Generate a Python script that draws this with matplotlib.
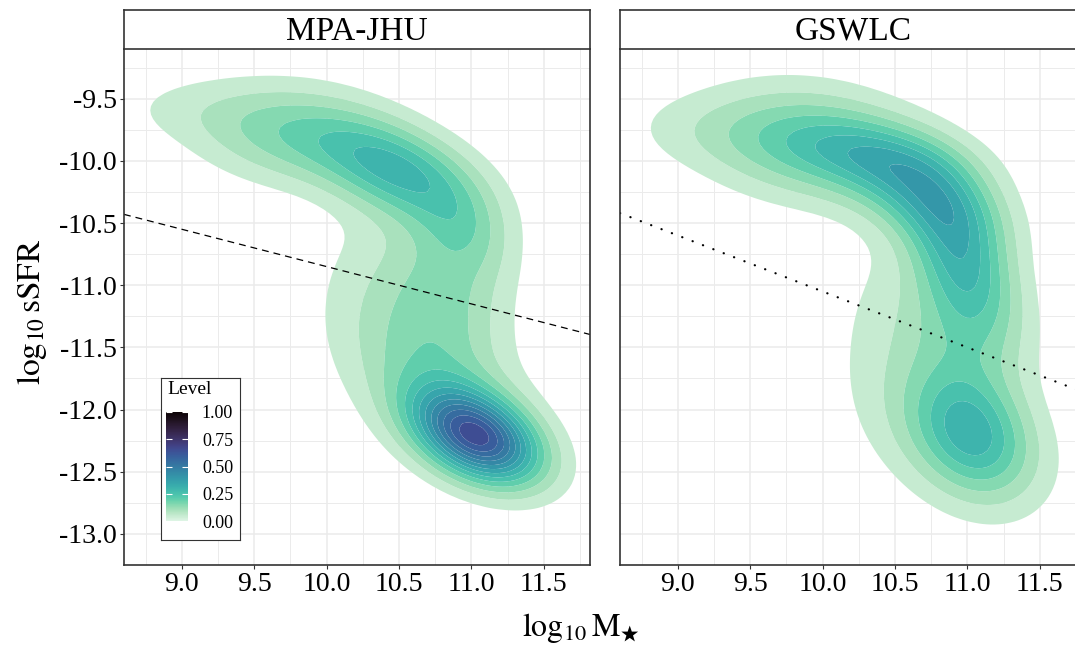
import numpy as np
import matplotlib
matplotlib.use("Agg")
import matplotlib.pyplot as plt
import seaborn as sns
from matplotlib.colors import Normalize
from matplotlib.cm import ScalarMappable

plt.rcParams['font.family'] = ['Liberation Serif', 'DejaVu Serif']
plt.rcParams['mathtext.fontset'] = 'stix'

# panel names
panels = ["MPA-JHU", "GSWLC"]

# smooth density components per panel: centre, widths, correlation, peak level
mpa_cx = [9.0, 9.75, 10.5, 10.95, 10.85, 10.35, 11.04, 10.75]
mpa_cy = [-9.58, -9.78, -10.08, -10.55, -11.0, -11.0, -12.22, -11.75]
mpa_sx = [0.40, 0.45, 0.38, 0.22, 0.30, 0.35, 0.30, 0.40]
mpa_sy = [0.20, 0.28, 0.28, 0.25, 0.45, 0.50, 0.26, 0.40]
mpa_rho = [-0.1, -0.15, -0.45, -0.3, 0.0, 0.0, -0.4, -0.3]
mpa_amp = [0.04, 0.17, 0.28, 0.08, 0.13, 0.06, 0.62, 0.13]

gsw_cx = [9.1, 9.9, 10.4, 10.7, 10.95, 11.0, 10.5, 11.04, 10.9]
gsw_cy = [-9.75, -9.85, -9.95, -10.25, -10.75, -11.4, -11.2, -12.2, -12.2]
gsw_sx = [0.40, 0.50, 0.45, 0.36, 0.25, 0.30, 0.35, 0.27, 0.45]
gsw_sy = [0.22, 0.32, 0.20, 0.28, 0.40, 0.40, 0.50, 0.33, 0.45]
gsw_rho = [-0.1, -0.15, -0.3, -0.45, -0.4, -0.1, 0.0, -0.25, -0.35]
gsw_amp = [0.04, 0.20, 0.12, 0.24, 0.26, 0.12, 0.05, 0.22, 0.11]

# separation lines: slope, intercept
mpa_line = (-0.30, -7.85)
gsw_line = (-0.45, -6.55)

x_ticks = [9.0, 9.5, 10.0, 10.5, 11.0, 11.5]
y_ticks = [-9.5, -10.0, -10.5, -11.0, -11.5, -12.0, -12.5, -13.0]
cbar_ticks = [0.0, 0.25, 0.5, 0.75, 1.0]

xlim = (8.60, 11.82)
ylim = (-13.19, -9.10)


def mixture(X, Y, cx, cy, sx, sy, rho, amp):
    Z = np.zeros_like(X)
    for a, b, s, t, r, h in zip(cx, cy, sx, sy, rho, amp):
        dx = (X - a) / s
        dy = (Y - b) / t
        q = (dx**2 - 2 * r * dx * dy + dy**2) / (1 - r**2)
        Z += h * np.exp(-0.5 * q)
    return Z


gx = np.linspace(8.4, 12.2, 140)
gy = np.linspace(-13.6, -8.8, 140)
X, Y = np.meshgrid(gx, gy)
Z_mpa = mixture(X, Y, mpa_cx, mpa_cy, mpa_sx, mpa_sy, mpa_rho, mpa_amp)
Z_gsw = mixture(X, Y, gsw_cx, gsw_cy, gsw_sx, gsw_sy, gsw_rho, gsw_amp)

cmap = sns.color_palette("mako_r", as_cmap=True)
levels = list(np.round(np.arange(0.05, 1.0, 0.05), 2)) + [10]
fills = [cmap(l) for l in levels[:-1]]

W, H = 1075, 646
fig = plt.figure(figsize=(W / 100, H / 100), dpi=100)


def px_axes(x0, y0, x1, y1):
    return fig.add_axes([x0 / W, 1 - y1 / H, (x1 - x0) / W, (y1 - y0) / H])


boxes = [(124, 49, 590, 565), (620, 49, 1086, 565)]
fields = [Z_mpa, Z_gsw]
lines = [mpa_line, gsw_line]
styles = [dict(ls=(0, (5.5, 4)), lw=0.9),
          dict(ls=(0, (0.1, 4.9)), lw=1.6, dash_capstyle='round')]

for i, (name, box, Z, ln, st) in enumerate(zip(panels, boxes, fields, lines, styles)):
    ax = px_axes(*box)
    ax.set_xlim(*xlim)
    ax.set_ylim(*ylim)
    ax.set_axisbelow(True)
    ax.set_xticks(x_ticks)
    ax.set_xticks([t + 0.25 for t in [8.5] + x_ticks], minor=True)
    ax.set_yticks(y_ticks)
    ax.set_yticks([t + 0.25 for t in y_ticks] + [-13.25], minor=True)
    ax.grid(which='major', color='#EBEBEB', lw=1.1)
    ax.grid(which='minor', color='#EBEBEB', lw=0.7)
    ax.tick_params(which='minor', length=0)
    ax.tick_params(which='major', length=3, width=0.8, color='#333333',
                   labelsize=20, labelcolor='black', pad=2)
    ax.set_xticklabels([f"{t:.1f}" for t in x_ticks])
    if i == 0:
        ax.set_yticklabels([f"{t:.1f}" for t in y_ticks])
    else:
        ax.tick_params(axis='y', left=False, labelleft=False)
    for sp in ax.spines.values():
        sp.set_color('#333333')
        sp.set_linewidth(1.2)
    ax.spines['top'].set_visible(False)

    ax.contourf(X, Y, Z, levels=levels, colors=fills, antialiased=True)

    xs = np.array(xlim)
    ax.plot(xs, ln[0] * xs + ln[1], color='black', **st)

    # facet strip
    sx = px_axes(box[0], 10, box[2], 49)
    sx.set_xticks([])
    sx.set_yticks([])
    for sp in sx.spines.values():
        sp.set_color('#333333')
        sp.set_linewidth(1.2)
    sx.text(0.5, 0.45, name, ha='center', va='center', fontsize=24,
            transform=sx.transAxes)

# axis titles
fig.text(581 / W, 1 - 628 / H, r'$\mathrm{log}_{10}\,\mathrm{M}_{\bigstar}$',
         ha='center', va='center', fontsize=23)
fig.text(32 / W, 1 - 312 / H, r'$\mathrm{log}_{10}\,\mathrm{sSFR}$',
         ha='center', va='center', fontsize=24, rotation=90)

# legend box with colour bar
lg = px_axes(161, 378, 240, 540)
lg.set_xticks([])
lg.set_yticks([])
for sp in lg.spines.values():
    sp.set_color('#333333')
    sp.set_linewidth(0.8)
lg.text(6 / 79, 1 - 12 / 162, "Level", fontsize=14, ha='left', va='center',
        transform=lg.transAxes)

cax = px_axes(166, 412, 188, 521)
cb = fig.colorbar(ScalarMappable(norm=Normalize(0, 1), cmap=cmap), cax=cax,
                  ticks=cbar_ticks)
cb.outline.set_visible(False)
cb.ax.set_yticklabels([f"{t:.2f}" for t in cbar_ticks])
cax.tick_params(direction='in', color='white', length=4, width=0.8,
                left=True, right=True, labelsize=13, pad=10)

fig.savefig("out.png", dpi=100)
